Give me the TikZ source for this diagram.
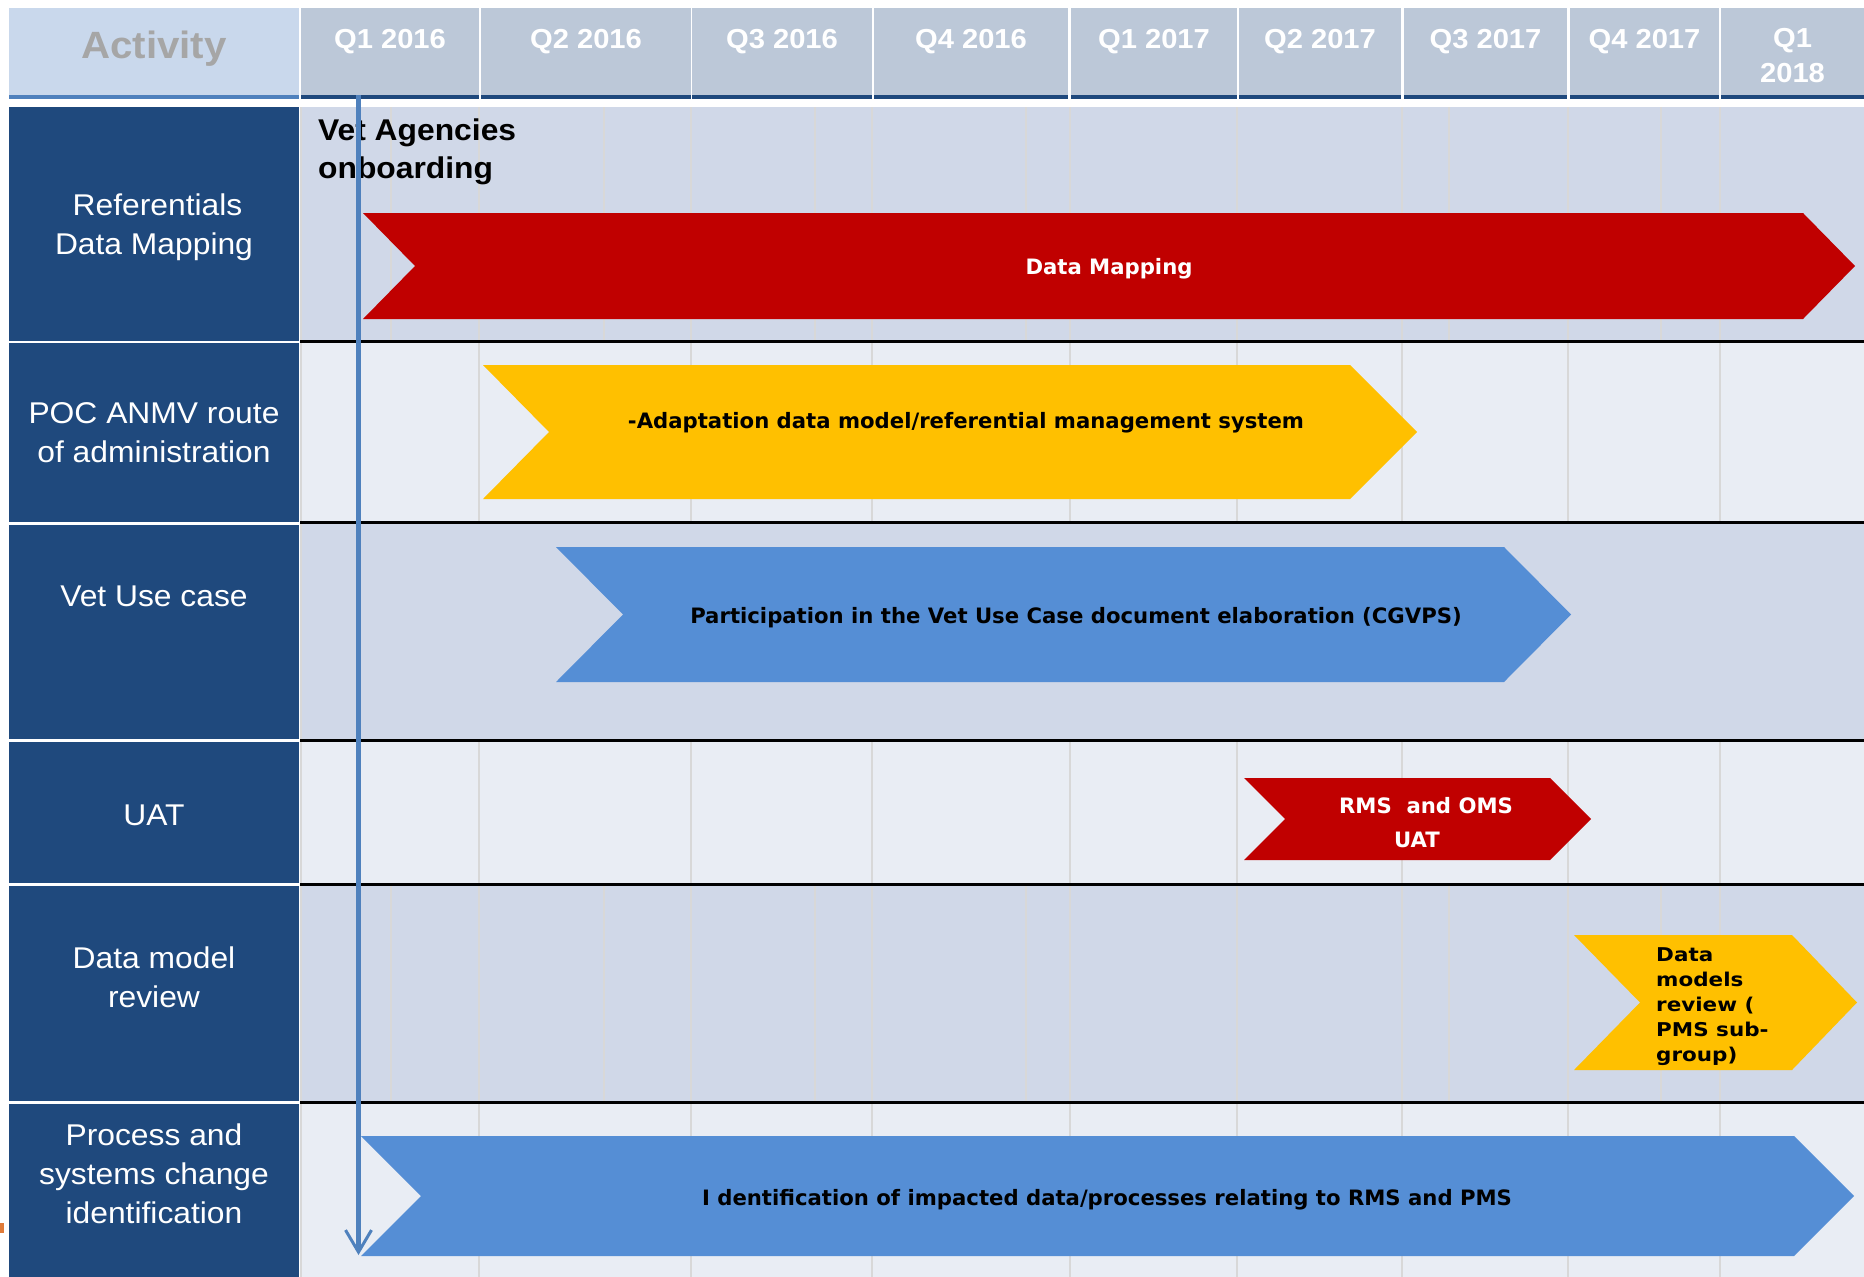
\documentclass[tikz,border=0pt]{standalone}
\usepackage{fontspec}
\setmainfont{Liberation Sans}[FakeStretch=1.06]
\newfontfamily\chevfont{DejaVu Sans}
\newfontfamily\chevwide{DejaVu Sans}[FakeStretch=1.13]
\usetikzlibrary{arrows.meta}
\definecolor{navy}{HTML}{1F497D}
\definecolor{midblue}{HTML}{4F81BD}
\definecolor{acthead}{HTML}{C9D8EC}
\definecolor{qhead}{HTML}{BCC8D8}
\definecolor{rowdark}{HTML}{D0D8E8}
\definecolor{rowlight}{HTML}{E9EDF4}
\definecolor{gridgray}{HTML}{D8D8D8}
\definecolor{cred}{HTML}{C00000}
\definecolor{cyellow}{HTML}{FFC000}
\definecolor{cblue}{HTML}{558ED5}
\definecolor{actgray}{HTML}{A6A6A6}
\definecolor{orangemark}{HTML}{E07B39}
\tikzset{
  qlabel/.style={anchor=base, inner sep=0, text=white, font=\bfseries\fontsize{27.5}{35}\selectfont, align=center},
  rowlabel/.style={inner sep=0, text=white, font=\fontsize{30}{39}\selectfont, align=center},
  chevtext/.style={inner sep=0, anchor=base, font=\chevfont\bfseries\fontsize{21.2}{27}\selectfont},
  gridline/.style={draw=gridgray, line width=2},
  sepline/.style={draw=black, line width=3},
  timeline/.style={draw=midblue, line width=5, -{Straight Barb[length=22pt,width=26pt,line width=3pt]}},
}
\begin{document}
\begin{tikzpicture}[x=1pt,y=-1pt]
\useasboundingbox (0,0) rectangle (1864,1277);
\fill[white] (0,0) rectangle (1864,1277);

% ---------- header ----------
\fill[acthead] (9,8) rectangle (299,95);
\fill[midblue] (9,95) rectangle (299,99);
\node[anchor=base, inner sep=0, text=actgray, font=\bfseries\fontsize{38}{44}\selectfont] (act) at (154,58) {Activity};
\foreach \a/\b/\t [count=\i] in {301/479/Q1 2016,481/691/Q2 2016,692/872/Q3 2016,874/1068/Q4 2016,1071/1237/Q1 2017,1239/1401/Q2 2017,1404/1567/Q3 2017,1570/1719/Q4 2017}{
  \fill[qhead] (\a,8) rectangle (\b,95);
  \fill[navy] (\a,95) rectangle (\b,99);
  \node[qlabel] (q\i) at ({(\a+\b)/2},48) {\t};
}
\fill[qhead] (1721,8) rectangle (1864,95);
\fill[navy] (1721,95) rectangle (1864,99);
\node[qlabel, anchor=north] (q9) at (1792.5,28.5) {Q1\\2018};

% ---------- left column ----------
\foreach \t/\b in {107/340.5,343/521.5,525/738.5,742/882.5,886/1100.5,1104/1277}{
  \fill[navy] (9,\t) rectangle (299,\b);
}
\node[rowlabel, anchor=north] (r1) at (154,193.5) {\hspace*{7pt}Referentials\\Data Mapping};
\node[rowlabel, anchor=north] (r2) at (154,402.5) {POC ANMV route\\of administration};
\node[rowlabel, anchor=base] (r3) at (154,606) {Vet Use case};
\node[rowlabel, anchor=base] (r4) at (154,825) {UAT};
\node[rowlabel, anchor=north] (r5) at (154,946.5) {Data model\\review};
\node[rowlabel, anchor=north] (r6) at (154,1123.5) {Process and\\systems change\\identification};
\fill[orangemark] (0,1223) rectangle (4,1233);

% ---------- grid rows ----------
\fill[rowdark]  (300,107) rectangle (1864,341);
\fill[rowlight] (300,341) rectangle (1864,522.5);
\fill[rowdark]  (300,522.5) rectangle (1864,740);
\fill[rowlight] (300,740) rectangle (1864,884);
\fill[rowdark]  (300,884) rectangle (1864,1102);
\fill[rowlight] (300,1102) rectangle (1864,1277);

% fine lines in dark rows 1 and 5
\foreach \x in {301,391,479,604,691,815,872,1026,1070,1237,1402,1449,1568,1661,1720}{
  \draw[gridline] (\x,107) -- (\x,339.5);
  \draw[gridline] (\x,885.5) -- (\x,1100.5);
}
% quarter lines in light rows
\foreach \x in {301,479,691,872,1070,1237,1402,1568,1720}{
  \draw[gridline] (\x,342.5) -- (\x,521);
  \draw[gridline] (\x,741.5) -- (\x,882.5);
  \draw[gridline] (\x,1103.5) -- (\x,1277);
}
\draw[gridline] (301,524) -- (301,738.5);

% separators
\foreach \y in {341,522.5,740,884,1102}{
  \draw[sepline] (300,\y) -- (1864,\y);
}

% ---------- chevrons ----------
\fill[cred] (363,213) -- (1803,213) -- (1855,266) -- (1803,319) -- (363,319) -- (415,266) -- cycle;
\node[chevtext, text=white] (t1) at (1109,274.5) {Data Mapping};

\fill[cyellow] (483,365) -- (1350,365) -- (1417,432) -- (1350,499) -- (483,499) -- (549,432) -- cycle;
\node[chevtext, text=black] (t2) at (966,428) {-Adaptation data model/referential management system};

\fill[cblue] (556,547) -- (1504,547) -- (1571,614.5) -- (1504,682) -- (556,682) -- (623,614.5) -- cycle;
\node[chevtext, text=black] (t3) at (1076,623) {Participation in the Vet Use Case document elaboration (CGVPS)};

\fill[cred] (1244,778) -- (1550,778) -- (1591,819) -- (1550,860) -- (1244,860) -- (1285,819) -- cycle;
\node[chevtext, text=white] (t4a) at (1426,813) {RMS\ \ and OMS};
\node[chevtext, text=white] (t4b) at (1417,847) {UAT};

\fill[cyellow] (1574,935) -- (1792,935) -- (1857,1002.5) -- (1792,1070) -- (1574,1070) -- (1640,1002.5) -- cycle;
\node[inner sep=0, anchor=north west, align=left, text=black, font=\chevwide\bfseries\fontsize{19}{25}\selectfont] (t5) at (1656,947) {Data\\models\\review (\\PMS sub-\\group)};

\fill[cblue] (361,1136) -- (1794,1136) -- (1854,1196) -- (1794,1256) -- (361,1256) -- (421,1196) -- cycle;
\node[chevtext, text=black] (t6) at (1107,1205) {I dentification of impacted data/processes relating to RMS and PMS};

% ---------- milestone ----------
\node[inner sep=0, anchor=north west, align=left, font=\bfseries\fontsize{30}{38}\selectfont] (vet) at (318,118.5) {Vet Agencies\\onboarding};
\coordinate (arrTop) at (358.5,95);
\coordinate (arrBot) at (358.5,1255);
\draw[timeline] (arrTop) -- (arrBot);
\end{tikzpicture}
\end{document}
